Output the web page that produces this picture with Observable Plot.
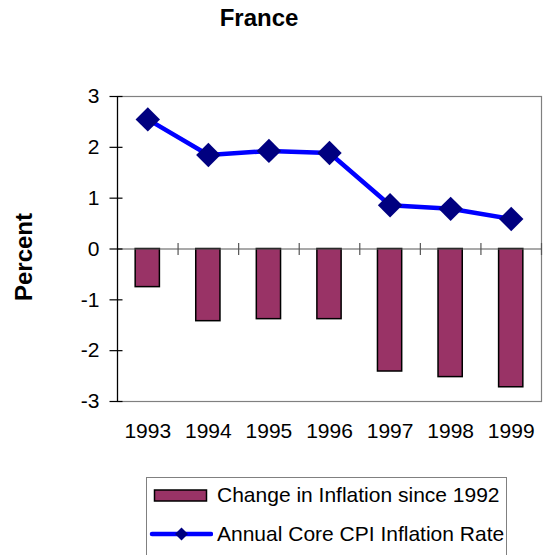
<!DOCTYPE html>
<html>
<head>
<meta charset="utf-8">
<script src="https://cdn.jsdelivr.net/npm/d3@7"></script>
<script src="https://cdn.jsdelivr.net/npm/@observablehq/plot@0.6"></script>
<style>
  body { margin: 0; background: #fff; font-family: "Liberation Sans", Arial, sans-serif; }
  #wrap { position: relative; width: 548px; height: 555px; overflow: hidden; background: #fff; }
  #title { position: absolute; left: 0; width: 518px; top: 6px; line-height: 24px; text-align: center; font-weight: bold; font-size: 24px; color: #000; }
  #ylabel { position: absolute; left: 24px; top: 257px; transform: translate(-50%, -50%) rotate(-90deg); font-weight: bold; font-size: 24px; line-height: 24px; white-space: nowrap; color: #000; }
  #chart { position: absolute; left: 0; top: 0; }
  #legend { position: absolute; left: 146px; top: 477px; width: 359px; height: 100px; border: 1px solid #808080; background: #fff; }
  .row { position: absolute; left: 0; display: flex; align-items: center; height: 24px; }
  .row span { font-size: 21px; color: #000; white-space: nowrap; margin-left: 4px; }
</style>
</head>
<body>
<div id="wrap">
  <div id="chart"></div>
  <div id="title">France</div>
  <div id="ylabel">Percent</div>
  <div id="legend"></div>
</div>
<script>
// ---- data ----
const years = [1993, 1994, 1995, 1996, 1997, 1998, 1999];
const changeSince1992 = [-0.75, -1.42, -1.38, -1.38, -2.41, -2.52, -2.72];
const coreCPI = [2.55, 1.85, 1.93, 1.89, 0.86, 0.79, 0.59];
const yTicks = [-3, -2, -1, 0, 1, 2, 3];
const seriesNames = ["Change in Inflation since 1992", "Annual Core CPI Inflation Rate"];

const data = years.map((year, i) => ({ year, change: changeSince1992[i], core: coreCPI[i] }));
const boundaries = years.map(y => y + 0.5);

const barColor = "#993366";
const lineColor = "#0000ff";
const markerColor = "#000080";

// custom tick symbols
const vTick = { draw(ctx) { ctx.moveTo(0, -6); ctx.lineTo(0, 6); } };
const hTick = { draw(ctx) { ctx.moveTo(-8, 0); ctx.lineTo(5, 0); } };

const chart = Plot.plot({
  width: 548,
  height: 460,
  marginTop: 96,
  marginBottom: 59,
  marginLeft: 117,
  marginRight: 7,
  style: { fontFamily: '"Liberation Sans", Arial, sans-serif', background: "transparent" },
  x: { type: "linear", domain: [years[0] - 0.5, years[years.length - 1] + 0.5] },
  y: { domain: [yTicks[0], yTicks[yTicks.length - 1]] },
  marks: [
    Plot.frame({ stroke: "#808080", strokeWidth: 1.2 }),
    Plot.rectY(data, {
      x1: d => d.year - 0.2, x2: d => d.year + 0.2, y1: 0, y2: "change",
      fill: barColor, stroke: "#000", strokeWidth: 1.5
    }),
    Plot.ruleY([0], { stroke: "#555", strokeWidth: 1.2 }),
    Plot.dot(boundaries, { x: d => d, y: 0, symbol: vTick, r: 6, stroke: "#555", strokeWidth: 1.2, fill: "none" }),
    Plot.ruleX([years[0] - 0.5], { stroke: "#000", strokeWidth: 1.2 }),
    Plot.dot(yTicks, { x: years[0] - 0.5, y: d => d, symbol: hTick, r: 6, stroke: "#000", strokeWidth: 1.2, fill: "none" }),
    Plot.axisY(yTicks, { anchor: "left", tickSize: 0, tickPadding: 18, fontSize: 21, label: null, tickFormat: d => d < 0 ? "-" + Math.abs(d) : String(d) }),
    Plot.axisX(years, { anchor: "bottom", tickSize: 0, tickPadding: 22, fontSize: 21, label: null, tickFormat: d => String(d) }),
    Plot.line(data, { x: "year", y: "core", stroke: lineColor, strokeWidth: 4.5 }),
    Plot.dot(data, { x: "year", y: "core", symbol: "diamond2", r: 11, fill: markerColor, stroke: "none" })
  ]
});
document.getElementById("chart").appendChild(chart);

// legend
const legend = document.getElementById("legend");
const row1 = document.createElement("div");
row1.className = "row";
row1.style.top = "5px";
row1.innerHTML = `<svg width="66" height="24"><rect x="7.5" y="7" width="52" height="11" fill="${barColor}" stroke="#000" stroke-width="1.5"/></svg><span>${seriesNames[0]}</span>`;
legend.appendChild(row1);
const row2 = document.createElement("div");
row2.className = "row";
row2.style.top = "44px";
row2.innerHTML = `<svg width="66" height="24"><line x1="5" y1="12" x2="64" y2="12" stroke="${lineColor}" stroke-width="4.5" stroke-linecap="round"/><path d="M34.5,5.5 L41,12 L34.5,18.5 L28,12 Z" fill="${markerColor}"/></svg><span>${seriesNames[1]}</span>`;
legend.appendChild(row2);
</script>
</body>
</html>
